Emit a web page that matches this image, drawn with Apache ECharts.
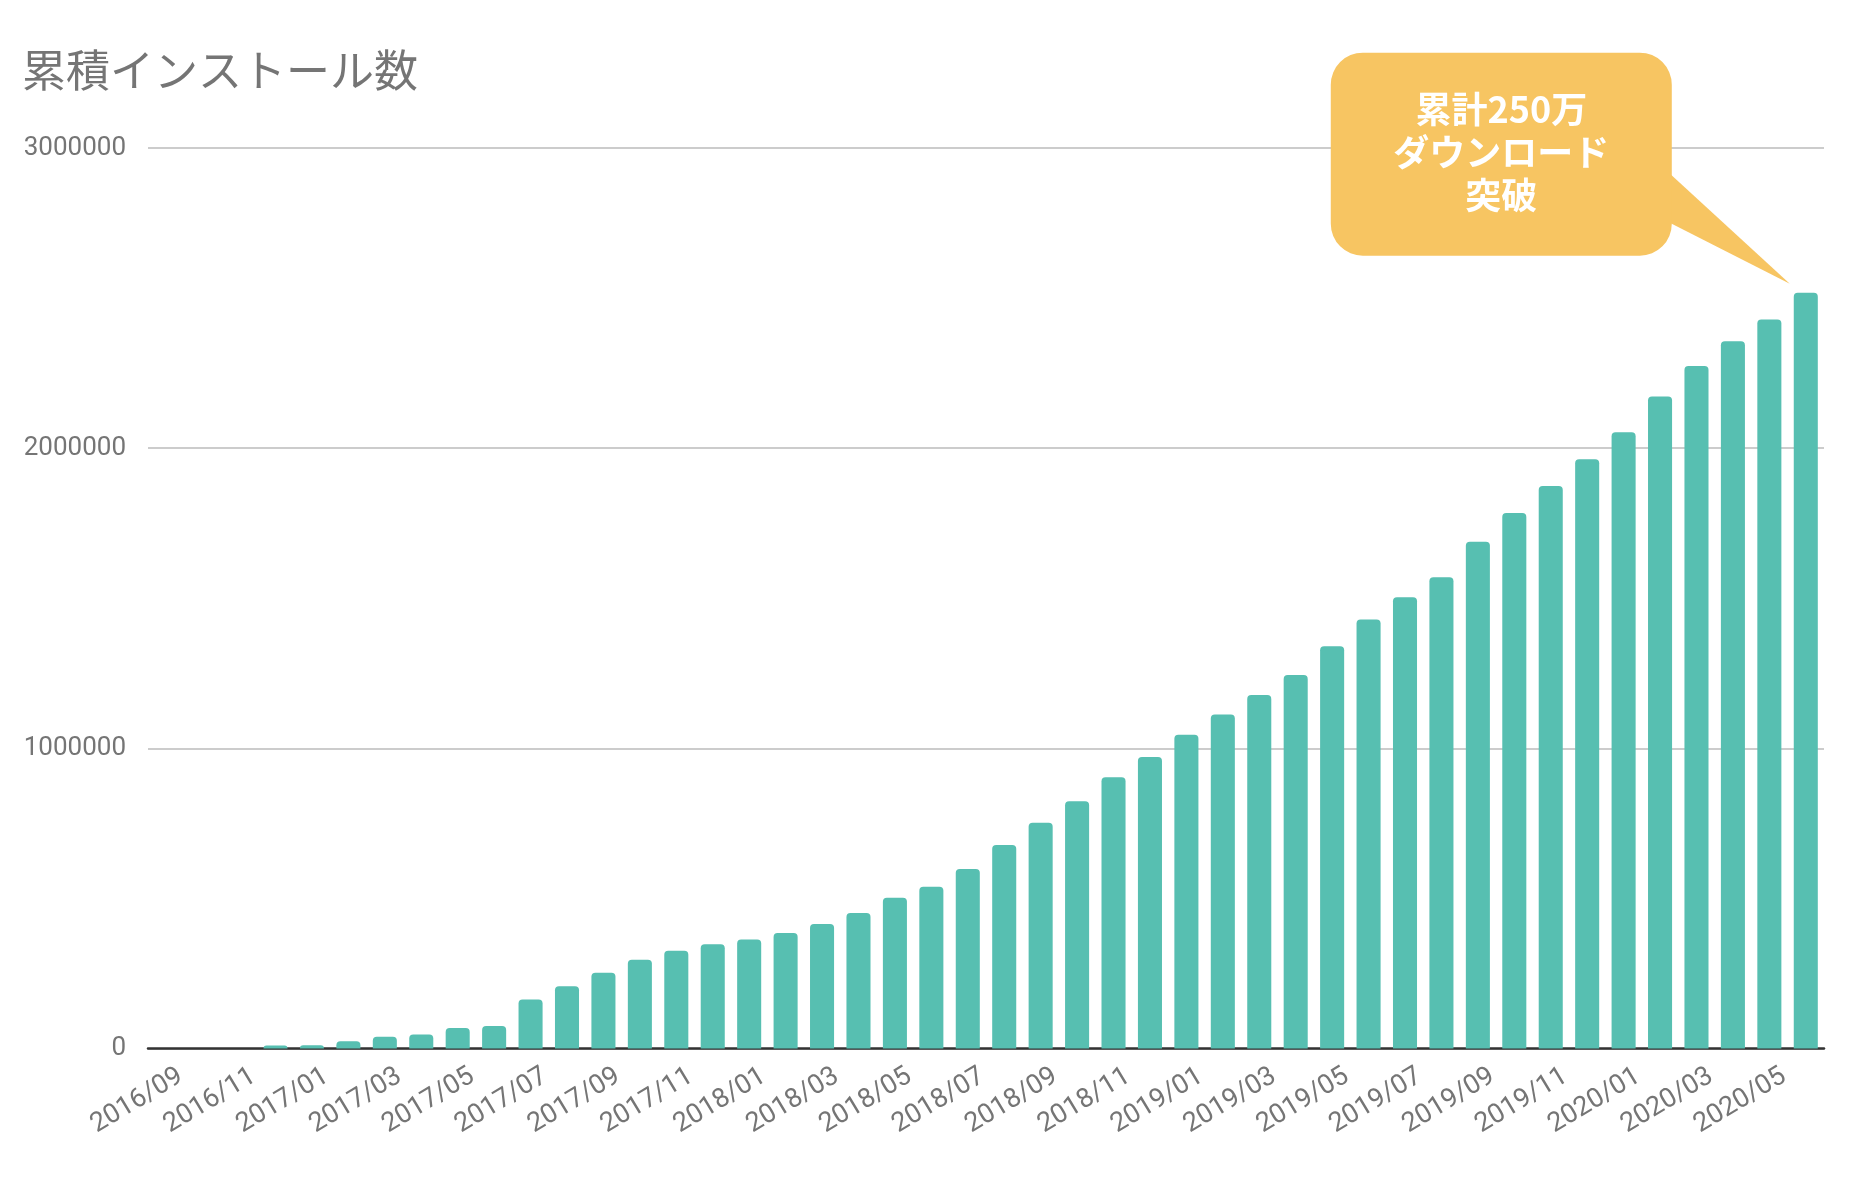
<!DOCTYPE html>
<html>
<head>
<meta charset="utf-8">
<title>累積インストール数</title>
<script src="https://cdn.jsdelivr.net/npm/echarts@6/dist/echarts.min.js"></script>
<style>
html, body { margin: 0; padding: 0; background: #fff; }
#main { width: 1864px; height: 1194px; }
</style>
</head>
<body>
<div id="main"></div>
<script>
// 月ごとのカテゴリ
var months = [
	'2016/09', '2016/10', '2016/11', '2016/12',
	'2017/01', '2017/02', '2017/03', '2017/04', '2017/05', '2017/06',
	'2017/07', '2017/08', '2017/09', '2017/10', '2017/11', '2017/12',
	'2018/01', '2018/02', '2018/03', '2018/04', '2018/05', '2018/06',
	'2018/07', '2018/08', '2018/09', '2018/10', '2018/11', '2018/12',
	'2019/01', '2019/02', '2019/03', '2019/04', '2019/05', '2019/06',
	'2019/07', '2019/08', '2019/09', '2019/10', '2019/11', '2019/12',
	'2020/01', '2020/02', '2020/03', '2020/04', '2020/05', '2020/06'
];
// 累積インストール数
var installs = [
	0, 0, 0, 10000,
	11000, 24000, 39000, 47000, 68000, 75000,
	163000, 207000, 252000, 296000, 326000, 347000,
	363000, 385000, 415000, 451000, 502000, 539000,
	598000, 678000, 752000, 824000, 904000, 971000,
	1045000, 1113000, 1178000, 1244000, 1340000, 1429000,
	1503000, 1570000, 1688000, 1784000, 1874000, 1963000,
	2053000, 2172000, 2274000, 2356000, 2429000, 2518000
];
var yMin = 0;
var yMax = 3000000;
var yStep = 1000000;
var calloutLines = ['累計250万', 'ダウンロード', '突破'];

var fontLatin = 'Roboto, "Noto Sans CJK JP", sans-serif';
var grayText = '#757575';

var myChart = echarts.init(document.getElementById('main'));
myChart.setOption({
	animation: false,
	backgroundColor: '#ffffff',
	title: {
		text: '累積インストール数',
		left: 22,
		top: 48,
		padding: 0,
		textStyle: {
			fontFamily: '"Noto Sans CJK JP", sans-serif',
			fontSize: 44,
			fontWeight: 'normal',
			color: grayText
		}
	},
	grid: {
		left: 148,
		right: 40,
		top: 148,
		bottom: 145.5
	},
	xAxis: {
		type: 'category',
		data: months,
		axisLine: { lineStyle: { color: '#333333', width: 2.5 } },
		axisTick: { show: false },
		axisLabel: {
			interval: 1,
			rotate: 31,
			margin: 19,
			verticalAlign: 'top',
			padding: [0, -9, 0, 0],
			fontFamily: fontLatin,
			fontSize: 27,
			color: grayText
		}
	},
	yAxis: {
		type: 'value',
		min: yMin,
		max: yMax,
		interval: yStep,
		axisLine: { show: false },
		axisTick: { show: false },
		splitLine: { lineStyle: { color: '#cccccc', width: 2 } },
		axisLabel: {
			margin: 22,
			fontFamily: fontLatin,
			fontSize: 26,
			color: grayText,
			formatter: function (v) { return String(v) }
		}
	},
	series: [{
		type: 'bar',
		data: installs,
		barCategoryGap: '34%',
		itemStyle: {
			color: '#57BFB1',
			borderRadius: [4, 4, 0, 0]
		}
	}]
});

// 最終月の棒に吹き出しをつける
function drawCallout() {
	var last = months.length - 1;
	var barTop = myChart.convertToPixel({ seriesIndex: 0 }, [months[last], installs[last]]);
	var tipX = barTop[0] - 16;
	var tipY = barTop[1] - 9;
	var boxW = 341;
	var boxH = 203;
	var boxX = tipX - 118 - boxW;
	var boxY = tipY - 231;
	var fill = '#F7C562';
	myChart.setOption({
		graphic: [
			{
				type: 'polygon',
				shape: {
					points: [
						[boxX + boxW - 4, boxY + 119],
						[tipX, tipY],
						[boxX + boxW - 4, boxY + 169]
					]
				},
				style: { fill: fill }
			},
			{
				type: 'rect',
				shape: { x: boxX, y: boxY, width: boxW, height: boxH, r: 32 },
				style: { fill: fill }
			},
			{
				type: 'text',
				style: {
					text: calloutLines.join('\n'),
					x: boxX + boxW / 2,
					y: boxY + 100,
					align: 'center',
					verticalAlign: 'middle',
					lineHeight: 43,
					fill: '#ffffff',
					font: 'bold 36px "Noto Sans CJK JP", sans-serif'
				}
			}
		]
	});
}
drawCallout();
</script>
</body>
</html>
